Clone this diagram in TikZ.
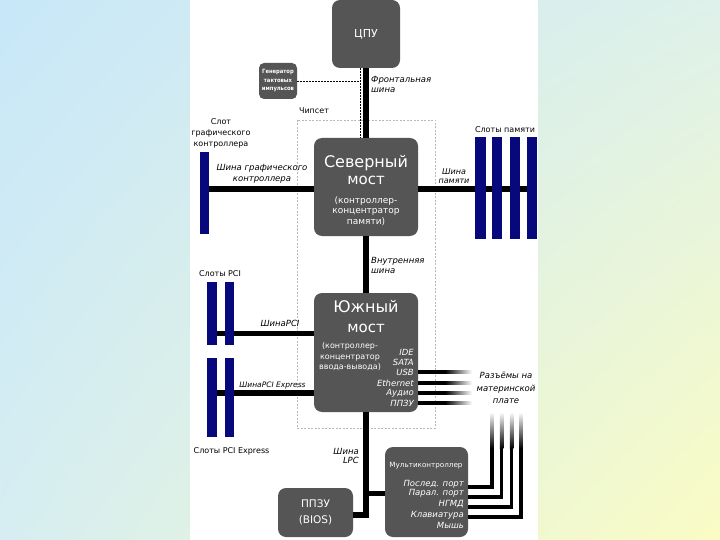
\documentclass[tikz,border=0pt]{standalone}
\usepackage{fontspec}
\usetikzlibrary{shadings}
\setmainfont{DejaVu Sans}
\newfontfamily\condfont{DejaVu Sans Condensed}
\definecolor{unitgray}{RGB}{85,85,85}
\definecolor{slotblue}{RGB}{8,8,125}
\definecolor{bgblue}{RGB}{200,231,248}
\definecolor{bgblue2}{RGB}{214,238,242}
\definecolor{bgmint}{RGB}{222,241,234}
\definecolor{bgyellow}{RGB}{250,252,196}
\newcommand{\fs}[2]{\fontsize{#1}{#2}\selectfont}
\begin{document}
\begin{tikzpicture}[x=1pt,y=-1pt,
    unit/.style={fill=unitgray,rounded corners=8pt,inner sep=0pt,text=white,align=center},
    slot/.style={fill=slotblue,inner sep=0pt},
    bus/.style={line width=6.5pt},
    lpc/.style={line width=5.5pt},
    port/.style={line width=3.5pt},
    clock/.style={line width=0.6pt,dash pattern=on 2pt off 1pt},
    lbl/.style={inner sep=0pt,align=center,font=\fs{8}{11}},
    buslbl/.style={inner sep=0pt,align=center,font=\fs{8.5}{11}\itshape},
    intxt/.style={inner sep=0pt,align=center,text=white},
    porttxt/.style={inner sep=0pt,anchor=east,text=white,font=\fs{8.5}{10}\itshape}]
\useasboundingbox (0,0) rectangle (720,540);
\shade[upper left=bgblue,lower left=bgblue2,upper right=bgmint,lower right=bgyellow] (0,0) rectangle (720,540);
\fill[white] (190,0) rectangle (538,540);
\draw[gray!55,line width=0.6pt,dash pattern=on 2pt off 1.5pt] (297,120) rectangle (435,428);
\node[lbl] (chipset) at (314,111) {Чипсет};

\node[unit,minimum width=68pt,minimum height=68pt,font=\fs{11}{13}] (cpu) at (366,34) {ЦПУ};
\node[unit,rounded corners=5pt,minimum width=38pt,minimum height=36pt,font=\condfont\bfseries\fs{5.8}{8.5}] (gen) at (278,81) {Генератор\\тактовых\\импульсов};
\node[unit,minimum width=104pt,minimum height=98pt] (nb) at (366,187) {};
\node[unit,minimum width=104pt,minimum height=119pt] (sb) at (366,352.5) {};
\node[unit,minimum width=83pt,minimum height=90pt] (mc) at (426.5,492) {};
\node[unit,minimum width=75pt,minimum height=49pt,font=\fs{10.5}{16}] (rom) at (315.5,512.5) {ППЗУ\\(BIOS)};

\coordinate (clk) at (360.5,81);
\draw[clock] (gen.east) -- (clk);
\draw[clock] (cpu.south -| clk) -- (nb.north -| clk);
\draw[bus] (cpu) -- (nb);
\draw[bus] (nb) -- (sb);

\coordinate (agpstart) at (209,189);
\coordinate (memend) at (537,189);
\draw[bus] (agpstart) -- (nb.west |- agpstart);
\draw[bus] (nb.east |- memend) -- (memend);
\node[slot,minimum width=9pt,minimum height=82pt] (agp) at (204.5,193) {};
\node[slot,minimum width=11pt,minimum height=102pt] (m1) at (480.5,188) {};
\node[slot,minimum width=10pt,minimum height=102pt] (m2) at (497,188) {};
\node[slot,minimum width=10pt,minimum height=102pt] (m3) at (515,188) {};
\node[slot,minimum width=10pt,minimum height=102pt] (m4) at (532,188) {};

\coordinate (pcistart) at (212,333.5);
\coordinate (pciestart) at (212,393);
\draw[lpc] (pcistart) -- (sb.west |- pcistart);
\draw[bus] (pciestart) -- (sb.west |- pciestart);
\node[slot,minimum width=10pt,minimum height=63pt] (p1) at (212,313.5) {};
\node[slot,minimum width=9pt,minimum height=63pt] (p2) at (229.5,313.5) {};
\node[slot,minimum width=10pt,minimum height=79pt] (pe1) at (212,397.5) {};
\node[slot,minimum width=9pt,minimum height=79pt] (pe2) at (229.5,397.5) {};

\coordinate (lpcbend) at (366,515);
\draw[lpc] (sb) -- (lpcbend) -- (rom.east |- lpcbend);
\draw[lpc] (mc.west |- 0,493.5) -- (lpcbend |- 0,493.5);

\shade[left color=black,right color=white,middle color=black] (418,370.2) rectangle (472,373.8);
\shade[left color=black,right color=white,middle color=black] (418,381.2) rectangle (472,384.8);
\shade[left color=black,right color=white,middle color=black] (418,391.2) rectangle (472,394.8);
\shade[left color=black,right color=white,middle color=black] (418,401.2) rectangle (472,404.8);

\draw[port] (mc.east |- 0,487) -- (492,487) -- (492,448);
\draw[port] (mc.east |- 0,497) -- (501.5,497) -- (501.5,448);
\draw[port] (mc.east |- 0,507) -- (511.5,507) -- (511.5,448);
\draw[port] (mc.east |- 0,517) -- (521,517) -- (521,448);
\shade[top color=white,bottom color=black] (490.25,412) rectangle (493.75,448.5);
\shade[top color=white,bottom color=black] (499.75,412) rectangle (503.25,448.5);
\shade[top color=white,bottom color=black] (509.75,412) rectangle (513.25,448.5);
\shade[top color=white,bottom color=black] (519.25,412) rectangle (522.75,448.5);

\node[buslbl,anchor=west,align=left,font=\fs{8.5}{10}\itshape] (fsb) at (371,84) {Фронтальная\\шина};
\node[lbl] (agplbl) at (221,133) {Слот\\графического\\контроллера};
\node[buslbl,font=\fs{8.5}{11.5}\itshape] (agpbus) at (262,174) {Шина графического\\контроллера};
\node[lbl] (memlbl) at (505,129.5) {Слоты памяти};
\node[buslbl,font=\fs{8}{9.5}\itshape] (membus) at (454,176) {Шина\\памяти};
\node[buslbl,anchor=west,align=left,font=\fs{8.5}{10.5}\itshape] (intbus) at (371,265.5) {Внутренняя\\шина};
\node[lbl] (pcilbl) at (220,274) {Слоты PCI};
\node[buslbl] (pcibus) at (280,323.5) {ШинаPCI};
\node[buslbl,font=\fs{7.5}{9}\itshape] (pciebus) at (272.5,385) {ШинаPCI Express};
\node[lbl] (pcielbl) at (231.5,451) {Слоты PCI Express};
\node[buslbl,anchor=east,align=right,font=\fs{8.5}{9.5}\itshape] (lpcbus) at (359,456) {Шина\\LPC};
\node[buslbl,font=\fs{8.5}{12.5}\itshape] (conn) at (506,388) {Разъёмы на\\материнской\\плате};

\node[intxt,font=\fs{16}{18}] (nbname) at (366,163) {Северный};
\node[intxt,font=\fs{15}{18}] (nbname2) at (366,180) {мост};
\node[intxt,font=\fs{9}{10.5}] (nbsub) at (366,211) {(контроллер-\\концентратор\\памяти)};

\node[intxt,font=\fs{16}{18}] (sbname) at (366,307) {Южный};
\node[intxt,font=\fs{15}{18}] (sbname2) at (366,328) {мост};
\node[intxt,font=\fs{8}{10.5}] (sbsub) at (350,357) {(контроллер-\\концентратор\\ввода-вывода)};
\node[porttxt] (ide) at (414,352) {IDE};
\node[porttxt] (sata) at (414,362) {SATA};
\node[porttxt] (usb) at (414,372) {USB};
\node[porttxt] (eth) at (414,383) {Ethernet};
\node[porttxt] (audio) at (414,393) {Аудио};
\node[porttxt] (flash) at (414,403) {ППЗУ};

\node[intxt,font=\fs{7.2}{9}] (mctitle) at (426,466) {Мультиконтроллер};
\node[porttxt] (serial) at (464,484) {Послед. порт};
\node[porttxt] (parallel) at (464,493.5) {Парал. порт};
\node[porttxt] (fdd) at (464,504) {НГМД};
\node[porttxt] (kbd) at (464,515) {Клавиатура};
\node[porttxt] (mouse) at (464,525) {Мышь};
\end{tikzpicture}
\end{document}
